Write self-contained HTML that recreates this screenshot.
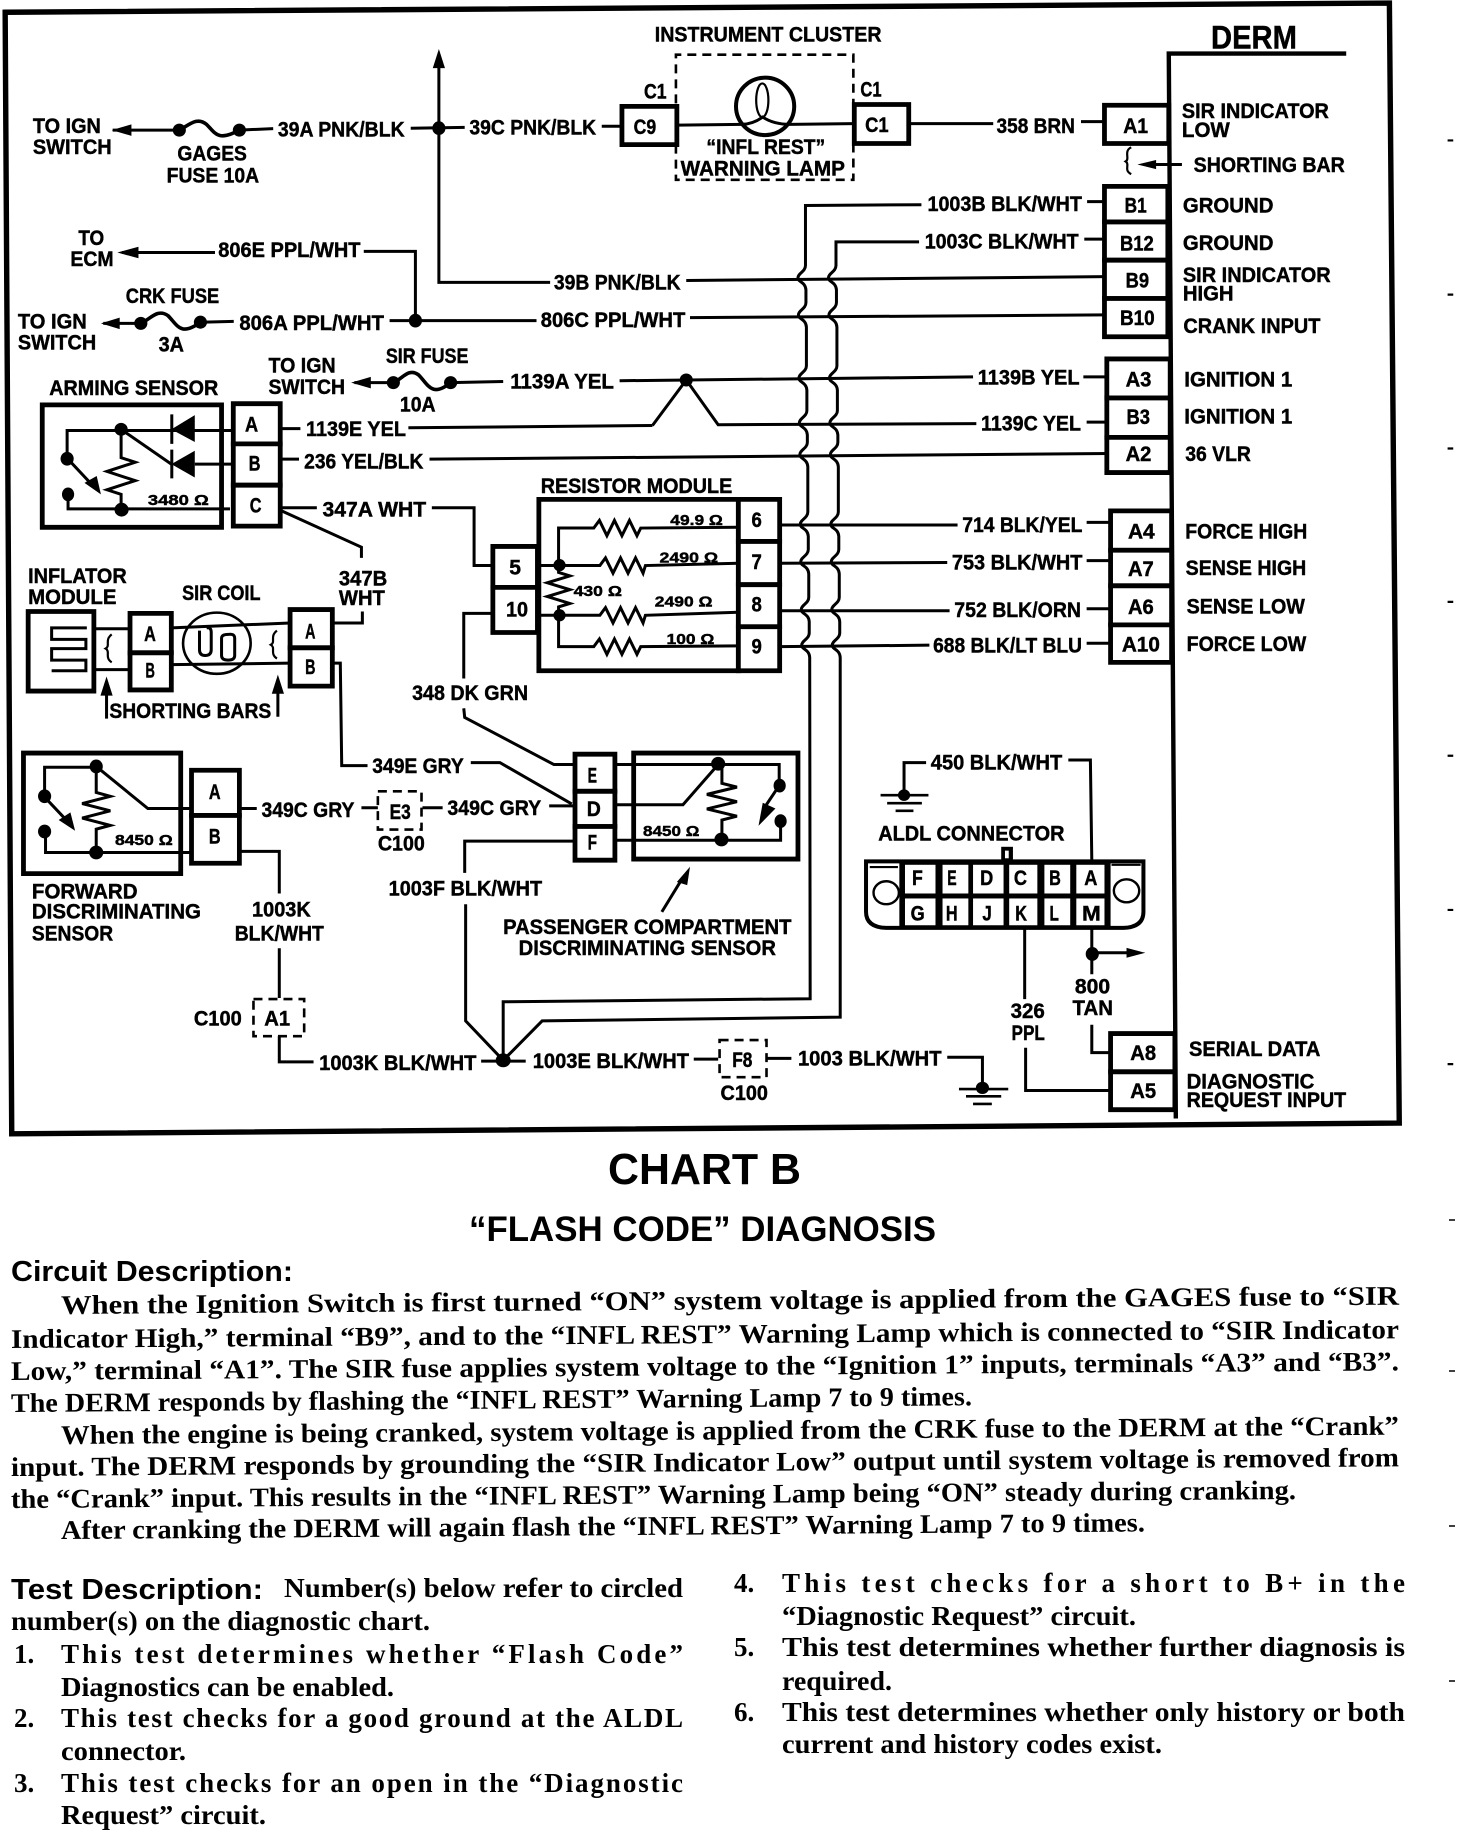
<!DOCTYPE html>
<html><head><meta charset="utf-8"><title>Chart B</title>
<style>
html,body{margin:0;padding:0;background:#fff}
svg{display:block}
path,line,rect,ellipse,polygon{vector-effect:non-scaling-stroke}
.w{fill:none;stroke:#000;stroke-width:3}
.u{fill:none;stroke:#000;stroke-width:3.6}
.n{fill:none;stroke:#000;stroke-width:2.2}
.b{fill:#fff;stroke:#000;stroke-width:4.8}
.d{fill:none;stroke:#000;stroke-width:2.6;stroke-dasharray:9 6}
.f{fill:#000;stroke:none}
.z text{font-family:"Liberation Sans",sans-serif;font-weight:bold;font-size:55px;fill:#000;stroke:#000;stroke-width:0.5px;vector-effect:non-scaling-stroke}
.z text.s{font-size:38px}
.z text.l{font-size:84px}
.z text.o{font-family:"Liberation Sans","DejaVu Sans",sans-serif;font-size:38px}
.p text{font-family:"Liberation Serif",serif;font-weight:bold;font-size:27px;fill:#000}
.p text.h{font-family:"Liberation Sans",sans-serif;font-weight:bold}
</style></head><body>
<svg xmlns="http://www.w3.org/2000/svg" width="1472" height="1836" viewBox="0 0 1472 1836">
<rect x="0" y="0" width="1472" height="1836" fill="#fff"/>
<g class="z" transform="scale(0.46939,0.38265)">
<!-- ROOT: cross-quadrant -->
<path d="M11 32 L2960 8 L2981 2935 L25 2963 Z" fill="none" stroke="#000" stroke-width="5.4"/>
<path class="d" d="M1440 270 V143 H1818 V270 M1818 375 V470 H1440 V380"/>
<path class="w" d="M1445 327 L1580 325 M1683 325 L1818 323"/>
<path class="w" d="M1462 733 L2353 723"/>
<path class="w" d="M1470 830 L2353 823"/>
<path class="w" d="M1320 995 L2073 985"/>
<path class="w" d="M1390 1112 L1462 993 L1530 1110 L2080 1107"/>
<path class="w" d="M870 1118 L1390 1112"/>
<path class="w" d="M915 1200 L2363 1185"/>
<ellipse class="f" cx="1462" cy="993" rx="14" ry="17"/>
<!-- jogged verticals -->
<path class="w" d="M1963 535 L1716 537 V694 c0 16-16 20-16 32c0 12 16 10 17 32 V791 c0 16-16 20-16 32c0 12 16 10 17 32 V956 c0 16-16 20-16 32c0 12 16 10 17 32 V1073 c0 16-16 20-16 32c0 12 16 10 17 32 V1156 c0 16-16 20-16 32c0 12 16 10 17 32 V1338 c0 16-16 20-16 32c0 12 16 10 17 32 V1436 c0 16-16 20-16 32c0 12 16 10 17 32 V1561 c0 16-16 20-16 32c0 12 16 10 17 32 V1654 c0 16-16 20-16 32c0 12 16 10 17 32 L1726 2610 L1072 2618 V2771"/>
<path class="w" d="M1958 632 H1781 V694 c0 16-16 20-16 32c0 12 16 10 17 32 V791 c0 16-16 20-16 32c0 12 16 10 17 32 V956 c0 16-16 20-16 32c0 12 16 10 17 32 V1073 c0 16-16 20-16 32c0 12 16 10 17 32 V1156 c0 16-16 20-16 32c0 12 16 10 17 32 V1338 c0 16-16 20-16 32c0 12 16 10 17 32 V1436 c0 16-16 20-16 32c0 12 16 10 17 32 V1561 c0 16-16 20-16 32c0 12 16 10 17 32 V1654 c0 16-16 20-16 32c0 12 16 10 17 32 L1790 2658 L1155 2668 L1072 2771"/>
<!-- DERM line -->
<path d="M2868 140 H2490 L2505 2923" fill="none" stroke="#000" stroke-width="4.4"/>
<!-- resistor module -->
<rect class="b" x="1148" y="1305" width="425" height="448"/>
<rect class="b" x="1573" y="1305" width="88" height="110"/>
<rect class="b" x="1573" y="1415" width="88" height="113"/>
<rect class="b" x="1573" y="1528" width="88" height="110"/>
<rect class="b" x="1573" y="1638" width="88" height="115"/>
<rect class="b" x="1050" y="1428" width="95" height="107"/>
<rect class="b" x="1050" y="1535" width="95" height="118"/>
<path class="w" d="M1145 1478 H1190 M1190 1475 V1380 H1265 l12 -20 l16 40 l16 -40 l16 40 l16 -40 l16 40 l8 -20 L1573 1378"/>
<path class="w" d="M1190 1478 H1278 l12 -20 l16 40 l16 -40 l16 40 l16 -40 l16 40 l5 -20 L1573 1472"/>
<path class="w" d="M1145 1608 H1278 l12 -20 l16 40 l16 -40 l16 40 l16 -40 l16 40 l5 -20 L1573 1600"/>
<path class="w" d="M1190 1608 V1690 H1265 l12 -20 l16 40 l16 -40 l16 40 l16 -40 l16 40 l8 -20 L1573 1688"/>
<path class="w" d="M1190 1478 V1496 l24 9 l-48 18 l48 18 l-48 18 l48 18 l-24 9 V1608"/>
<ellipse class="f" cx="1192" cy="1477" rx="13" ry="16"/><ellipse class="f" cx="1192" cy="1608" rx="13" ry="16"/>
<text x="1152" y="1288" textLength="408" lengthAdjust="spacingAndGlyphs">RESISTOR MODULE</text>
<text class="o" x="1428" y="1372" textLength="112" lengthAdjust="spacingAndGlyphs">49.9 Ω</text>
<text class="o" x="1405" y="1470" textLength="125" lengthAdjust="spacingAndGlyphs">2490 Ω</text>
<text class="o" x="1222" y="1558" textLength="103" lengthAdjust="spacingAndGlyphs">430 Ω</text>
<text class="o" x="1395" y="1585" textLength="123" lengthAdjust="spacingAndGlyphs">2490 Ω</text>
<text class="o" x="1420" y="1683" textLength="102" lengthAdjust="spacingAndGlyphs">100 Ω</text>
<text x="1085" y="1502" textLength="25" lengthAdjust="spacingAndGlyphs">5</text>
<text x="1078" y="1611" textLength="47" lengthAdjust="spacingAndGlyphs">10</text>
<text x="1601" y="1377" textLength="22" lengthAdjust="spacingAndGlyphs">6</text>
<text x="1601" y="1487" textLength="22" lengthAdjust="spacingAndGlyphs">7</text>
<text x="1601" y="1598" textLength="22" lengthAdjust="spacingAndGlyphs">8</text>
<text x="1601" y="1708" textLength="22" lengthAdjust="spacingAndGlyphs">9</text>
<text x="1395" y="108" textLength="483" lengthAdjust="spacingAndGlyphs">INSTRUMENT CLUSTER</text>
<text x="1505" y="403" textLength="253" lengthAdjust="spacingAndGlyphs">“INFL REST”</text>
<text x="1450" y="458" textLength="350" lengthAdjust="spacingAndGlyphs">WARNING LAMP</text>
<text x="1072" y="2441" textLength="614" lengthAdjust="spacingAndGlyphs">PASSENGER COMPARTMENT</text>
<text x="1105" y="2496" textLength="548" lengthAdjust="spacingAndGlyphs">DISCRIMINATING SENSOR</text>

<!-- Q1 -->
<path class="w" d="M240 340 H380"/><polygon class="f" points="238,340 280,325 280,355"/>
<path class="u" d="M382 340 C405 325 420 305 440 325 C460 350 465 370 510 340"/>
<ellipse class="f" cx="382" cy="340" rx="14" ry="17"/><ellipse class="f" cx="510" cy="340" rx="14" ry="17"/>
<path class="w" d="M510 340 L582 336"/>
<text x="70" y="347" textLength="145" lengthAdjust="spacingAndGlyphs">TO IGN</text>
<text x="70" y="402" textLength="168" lengthAdjust="spacingAndGlyphs">SWITCH</text>
<text x="378" y="420" textLength="148" lengthAdjust="spacingAndGlyphs">GAGES</text>
<text x="355" y="477" textLength="197" lengthAdjust="spacingAndGlyphs">FUSE 10A</text>
<text x="592" y="357" textLength="270" lengthAdjust="spacingAndGlyphs">39A PNK/BLK</text>
<path class="w" d="M875 335 L990 333 M935 170 V738 H1172"/>
<polygon class="f" points="935,128 922,178 948,178"/>
<ellipse class="f" cx="935" cy="335" rx="14" ry="18"/>
<text x="1000" y="352" textLength="270" lengthAdjust="spacingAndGlyphs">39C PNK/BLK</text>
<path class="w" d="M1282 330 H1325"/>
<rect class="b" x="1325" y="278" width="117" height="100"/>
<text x="1350" y="350" textLength="48" lengthAdjust="spacingAndGlyphs">C9</text>
<text x="1372" y="258" textLength="48" lengthAdjust="spacingAndGlyphs">C1</text>
<text x="1180" y="757" textLength="270" lengthAdjust="spacingAndGlyphs">39B PNK/BLK</text>
<polygon class="f" points="250,660 295,645 295,675"/>
<path class="w" d="M260 660 H458 M775 657 H885 V838"/>
<text x="465" y="672" textLength="303" lengthAdjust="spacingAndGlyphs">806E PPL/WHT</text>
<text x="167" y="640" textLength="55" lengthAdjust="spacingAndGlyphs">TO</text>
<text x="150" y="695" textLength="92" lengthAdjust="spacingAndGlyphs">ECM</text>
<text x="38" y="858" textLength="147" lengthAdjust="spacingAndGlyphs">TO IGN</text>
<text x="38" y="914" textLength="167" lengthAdjust="spacingAndGlyphs">SWITCH</text>
<text x="268" y="792" textLength="199" lengthAdjust="spacingAndGlyphs">CRK FUSE</text>
<text x="338" y="918" textLength="54" lengthAdjust="spacingAndGlyphs">3A</text>
<polygon class="f" points="215,845 255,830 255,860"/>
<path class="w" d="M220 845 H300 M427 842 L498 840"/>
<path class="u" d="M300 845 C320 835 335 805 358 825 C378 850 385 880 427 842"/>
<ellipse class="f" cx="300" cy="845" rx="14" ry="17"/><ellipse class="f" cx="427" cy="842" rx="14" ry="17"/>
<text x="510" y="862" textLength="308" lengthAdjust="spacingAndGlyphs">806A PPL/WHT</text>
<path class="w" d="M830 838 H1143"/><ellipse class="f" cx="885" cy="838" rx="14" ry="18"/>
<text x="1152" y="855" textLength="308" lengthAdjust="spacingAndGlyphs">806C PPL/WHT</text>
<text x="572" y="973" textLength="143" lengthAdjust="spacingAndGlyphs">TO IGN</text>
<text x="572" y="1030" textLength="163" lengthAdjust="spacingAndGlyphs">SWITCH</text>
<text x="822" y="948" textLength="176" lengthAdjust="spacingAndGlyphs">SIR FUSE</text>
<text x="852" y="1075" textLength="76" lengthAdjust="spacingAndGlyphs">10A</text>
<polygon class="f" points="748,1000 790,985 790,1015"/>
<path class="w" d="M755 1000 H838 M960 1000 L1072 997"/>
<path class="u" d="M838 1000 C858 990 870 960 892 980 C912 1005 920 1040 960 1000"/>
<ellipse class="f" cx="838" cy="1000" rx="14" ry="17"/><ellipse class="f" cx="960" cy="1000" rx="14" ry="17"/>
<text x="1087" y="1015" textLength="221" lengthAdjust="spacingAndGlyphs">1139A YEL</text>
<text x="652" y="1140" textLength="213" lengthAdjust="spacingAndGlyphs">1139E YEL</text>
<path class="w" d="M600 1120 H640 M600 1200 H637 M600 1327 H675 M920 1327 H1010 V1478 H1048 M600 1335 L770 1430 V1458"/>
<text x="648" y="1225" textLength="254" lengthAdjust="spacingAndGlyphs">236 YEL/BLK</text>
<text x="687" y="1350" textLength="221" lengthAdjust="spacingAndGlyphs">347A WHT</text>
<text x="105" y="1032" textLength="360" lengthAdjust="spacingAndGlyphs">ARMING SENSOR</text>
<rect class="b" x="90" y="1058" width="382" height="320"/>
<rect class="b" x="497" y="1055" width="100" height="105"/>
<rect class="b" x="497" y="1160" width="100" height="108"/>
<rect class="b" x="497" y="1268" width="100" height="107"/>
<text x="522" y="1128" textLength="28" lengthAdjust="spacingAndGlyphs">A</text>
<text x="530" y="1230" textLength="25" lengthAdjust="spacingAndGlyphs">B</text>
<text x="532" y="1340" textLength="25" lengthAdjust="spacingAndGlyphs">C</text>
<path class="w" d="M143 1200 V1125 H495 M415 1213 H495 M258 1122 L365 1213 M145 1292 V1330 H490 M258 1125 V1196 l30 12 l-60 24 l60 24 l-60 24 l30 12 V1332"/>
<polygon class="f" points="365,1122 415,1085 415,1155"/><polygon class="f" points="365,1213 415,1178 415,1248"/>
<path class="w" d="M366 1083 V1160 M366 1175 V1250 M145 1200 L200 1272"/>
<polygon class="f" points="215,1292 180,1262 206,1244"/>
<ellipse class="f" cx="258" cy="1122" rx="14" ry="17"/><ellipse class="f" cx="259" cy="1332" rx="15" ry="18"/><ellipse class="f" cx="143" cy="1199" rx="14" ry="18"/><ellipse class="f" cx="145" cy="1292" rx="13" ry="18"/>
<text class="o" x="315" y="1320" textLength="130" lengthAdjust="spacingAndGlyphs">3480 Ω</text>
<text x="722" y="1530" textLength="103" lengthAdjust="spacingAndGlyphs">347B</text>

<!-- Q2 -->
<g transform="translate(1568,0)">
<ellipse fill="none" stroke="#000" stroke-width="4" cx="62" cy="278" rx="62" ry="75"/>
<ellipse class="n" cx="56" cy="262" rx="13" ry="44"/>
<path class="w" d="M12 325 Q35 325 57 306 Q80 325 115 325"/>
<text x="265" y="252" textLength="45" lengthAdjust="spacingAndGlyphs">C1</text>
<rect class="b" x="252" y="273" width="116" height="102"/>
<text x="275" y="345" textLength="50" lengthAdjust="spacingAndGlyphs">C1</text>
<path class="w" d="M368 323 H548 M735 318 H785"/>
<text x="555" y="348" textLength="167" lengthAdjust="spacingAndGlyphs">358 BRN</text>
<rect class="b" x="785" y="275" width="137" height="100"/>
<text x="825" y="347" textLength="53" lengthAdjust="spacingAndGlyphs">A1</text>
<text class="l" x="1012" y="127" textLength="183" lengthAdjust="spacingAndGlyphs">DERM</text>
<text x="950" y="308" textLength="313" lengthAdjust="spacingAndGlyphs">SIR INDICATOR</text>
<text x="950" y="358" textLength="102" lengthAdjust="spacingAndGlyphs">LOW</text>
<path class="n" d="M842 385 C825 395 840 415 830 422 C840 430 825 445 842 455"/>
<path class="w" d="M870 430 H950"/><polygon class="f" points="855,430 895,418 895,442"/>
<text x="975" y="450" textLength="322" lengthAdjust="spacingAndGlyphs">SHORTING BAR</text>
<rect class="b" x="785" y="487" width="135" height="93"/>
<rect class="b" x="785" y="580" width="135" height="100"/>
<rect class="b" x="785" y="680" width="135" height="100"/>
<rect class="b" x="785" y="780" width="135" height="100"/>
<text x="828" y="556" textLength="47" lengthAdjust="spacingAndGlyphs">B1</text>
<text x="818" y="655" textLength="72" lengthAdjust="spacingAndGlyphs">B12</text>
<text x="830" y="752" textLength="50" lengthAdjust="spacingAndGlyphs">B9</text>
<text x="818" y="850" textLength="74" lengthAdjust="spacingAndGlyphs">B10</text>
<text x="952" y="556" textLength="193" lengthAdjust="spacingAndGlyphs">GROUND</text>
<text x="952" y="654" textLength="193" lengthAdjust="spacingAndGlyphs">GROUND</text>
<text x="952" y="737" textLength="315" lengthAdjust="spacingAndGlyphs">SIR INDICATOR</text>
<text x="952" y="785" textLength="108" lengthAdjust="spacingAndGlyphs">HIGH</text>
<text x="953" y="870" textLength="292" lengthAdjust="spacingAndGlyphs">CRANK INPUT</text>
<text x="408" y="552" textLength="329" lengthAdjust="spacingAndGlyphs">1003B BLK/WHT</text>
<text x="402" y="650" textLength="328" lengthAdjust="spacingAndGlyphs">1003C BLK/WHT</text>
<path class="w" d="M748 527 H785 M742 625 H785 M740 985 H790 M747 1103 H790"/>
<text x="515" y="1005" textLength="217" lengthAdjust="spacingAndGlyphs">1139B YEL</text>
<text x="522" y="1125" textLength="213" lengthAdjust="spacingAndGlyphs">1139C YEL</text>
<rect class="b" x="790" y="938" width="135" height="102"/>
<rect class="b" x="790" y="1040" width="135" height="103"/>
<rect class="b" x="790" y="1143" width="135" height="92"/>
<text x="830" y="1010" textLength="55" lengthAdjust="spacingAndGlyphs">A3</text>
<text x="832" y="1108" textLength="50" lengthAdjust="spacingAndGlyphs">B3</text>
<text x="830" y="1205" textLength="55" lengthAdjust="spacingAndGlyphs">A2</text>
<text x="955" y="1010" textLength="230" lengthAdjust="spacingAndGlyphs">IGNITION 1</text>
<text x="955" y="1107" textLength="230" lengthAdjust="spacingAndGlyphs">IGNITION 1</text>
<text x="957" y="1205" textLength="140" lengthAdjust="spacingAndGlyphs">36 VLR</text>
<path class="w" d="M93 1372 H472 M93 1472 L450 1470 M747 1365 H797 M747 1465 H797"/>
<text x="482" y="1390" textLength="256" lengthAdjust="spacingAndGlyphs">714 BLK/YEL</text>
<text x="460" y="1488" textLength="278" lengthAdjust="spacingAndGlyphs">753 BLK/WHT</text>
<rect class="b" x="798" y="1335" width="130" height="103"/>
<rect class="b" x="798" y="1438" width="130" height="93"/>
<text x="835" y="1407" textLength="57" lengthAdjust="spacingAndGlyphs">A4</text>
<text x="835" y="1505" textLength="55" lengthAdjust="spacingAndGlyphs">A7</text>
<text x="957" y="1407" textLength="260" lengthAdjust="spacingAndGlyphs">FORCE HIGH</text>
<text x="958" y="1503" textLength="257" lengthAdjust="spacingAndGlyphs">SENSE HIGH</text>
<path class="n" d="M1516 367 H1528 M1516 770 H1528 M1516 1172 H1528"/>
</g>

<!-- Q3 -->
<g transform="translate(0,1463)">
<text x="60" y="60" textLength="210" lengthAdjust="spacingAndGlyphs">INFLATOR</text>
<text x="60" y="115" textLength="188" lengthAdjust="spacingAndGlyphs">MODULE</text>
<text x="388" y="105" textLength="167" lengthAdjust="spacingAndGlyphs">SIR COIL</text>
<rect class="b" x="60" y="135" width="140" height="208"/>
<path class="w" d="M185 178 H110 V208 H183 V232 H110 V262 H183 V290 H110"/>
<path class="w" d="M200 180 H275 M200 287 H275 M365 178 L618 165 M365 274 L618 270"/>
<path class="n" d="M238 195 C222 210 236 225 225 232 C236 240 222 255 238 268 M590 185 C574 200 588 215 577 222 C588 230 574 245 590 258"/>
<rect class="b" x="277" y="140" width="88" height="103"/>
<rect class="b" x="277" y="243" width="88" height="97"/>
<text x="307" y="212" textLength="25" lengthAdjust="spacingAndGlyphs">A</text>
<text x="310" y="308" textLength="20" lengthAdjust="spacingAndGlyphs">B</text>
<ellipse fill="none" stroke="#000" stroke-width="2.6" cx="462" cy="218" rx="72" ry="80"/>
<path class="w" d="M425 185 V235 Q425 250 437 250 Q450 250 450 235 V190 Q450 175 440 178 M472 205 V250 Q472 262 486 262 Q500 262 500 250 V205 Q500 192 486 195 Q472 195 472 205"/>
<path class="w" d="M227 330 V415 M592 330 V410"/>
<polygon class="f" points="227,305 214,355 240,355"/><polygon class="f" points="592,300 579,350 605,350"/>
<text x="233" y="413" textLength="345" lengthAdjust="spacingAndGlyphs">SHORTING BARS</text>
<rect class="b" x="618" y="130" width="90" height="100"/>
<rect class="b" x="618" y="230" width="90" height="100"/>
<text x="650" y="205" textLength="22" lengthAdjust="spacingAndGlyphs">A</text>
<text x="650" y="298" textLength="22" lengthAdjust="spacingAndGlyphs">B</text>
<text x="722" y="118" textLength="98" lengthAdjust="spacingAndGlyphs">WHT</text>
<path class="w" d="M708 165 H772 V135 M712 270 H725 L728 538 H783 M1003 530 H1065 L1218 638"/>
<text x="793" y="557" textLength="195" lengthAdjust="spacingAndGlyphs">349E GRY</text>
<path class="w" d="M1050 140 H988 V310 M988 388 L990 412 L1180 535 H1225"/>
<text x="878" y="367" textLength="247" lengthAdjust="spacingAndGlyphs">348 DK GRN</text>
<rect class="b" x="1225" y="508" width="85" height="97"/>
<rect class="b" x="1225" y="605" width="85" height="92"/>
<rect class="b" x="1225" y="697" width="85" height="88"/>
<text x="1252" y="582" textLength="20" lengthAdjust="spacingAndGlyphs">E</text>
<text x="1250" y="670" textLength="30" lengthAdjust="spacingAndGlyphs">D</text>
<text x="1252" y="757" textLength="20" lengthAdjust="spacingAndGlyphs">F</text>
<rect fill="none" stroke="#000" stroke-width="4.8" x="1350" y="505" width="350" height="277"/>
<path class="w" d="M1310 535 H1660 V590 M1310 640 H1455 L1530 535 M1310 733 H1663 V683 M1660 590 L1630 645"/>
<path class="w" d="M1538 535 V584 l32 10 l-64 19 l64 19 l-64 19 l64 19 l-32 10 V729"/>
<polygon class="f" points="1616,695 1625,635 1652,650"/>
<ellipse class="f" cx="1530" cy="533" rx="15" ry="18"/><ellipse class="f" cx="1537" cy="731" rx="15" ry="18"/><ellipse class="f" cx="1661" cy="590" rx="13" ry="18"/><ellipse class="f" cx="1663" cy="683" rx="13" ry="18"/>
<text class="o" x="1370" y="722" textLength="120" lengthAdjust="spacingAndGlyphs">8450 Ω</text>
<path class="w" d="M1225 735 H990 V818 M992 900 V1205 L1072 1308"/>
<text x="828" y="877" textLength="327" lengthAdjust="spacingAndGlyphs">1003F BLK/WHT</text>
<ellipse class="f" cx="1072" cy="1308" rx="16" ry="18"/>
<path class="w" d="M1410 920 L1455 830"/><polygon class="f" points="1470,802 1442,842 1464,850"/>
<rect class="b" x="50" y="505" width="335" height="315"/>
<path class="w" d="M95 620 V542 H205 M97 710 V765 H410 M205 540 L315 650 H410 M95 620 L145 685 M205 540 V608 l30 10 l-60 19 l60 19 l-60 19 l60 19 l-30 10 V765"/>
<polygon class="f" points="160,708 125,680 150,660"/>
<ellipse class="f" cx="205" cy="540" rx="14" ry="18"/><ellipse class="f" cx="205" cy="765" rx="15" ry="18"/><ellipse class="f" cx="95" cy="618" rx="14" ry="18"/><ellipse class="f" cx="95" cy="710" rx="14" ry="18"/>
<text class="o" x="245" y="745" textLength="123" lengthAdjust="spacingAndGlyphs">8450 Ω</text>
<rect class="b" x="408" y="550" width="102" height="118"/>
<rect class="b" x="408" y="668" width="102" height="125"/>
<text x="445" y="625" textLength="25" lengthAdjust="spacingAndGlyphs">A</text>
<text x="445" y="742" textLength="25" lengthAdjust="spacingAndGlyphs">B</text>
<text x="68" y="885" textLength="225" lengthAdjust="spacingAndGlyphs">FORWARD</text>
<text x="68" y="938" textLength="360" lengthAdjust="spacingAndGlyphs">DISCRIMINATING</text>
<text x="68" y="995" textLength="173" lengthAdjust="spacingAndGlyphs">SENSOR</text>
<path class="w" d="M510 650 H547 M770 648 H805 M900 648 H943 M1170 643 H1225"/>
<text x="557" y="672" textLength="198" lengthAdjust="spacingAndGlyphs">349C GRY</text>
<text x="953" y="667" textLength="200" lengthAdjust="spacingAndGlyphs">349C GRY</text>
<rect class="d" x="805" y="605" width="93" height="100"/>
<text x="830" y="677" textLength="45" lengthAdjust="spacingAndGlyphs">E3</text>
<text x="805" y="760" textLength="100" lengthAdjust="spacingAndGlyphs">C100</text>
<path class="w" d="M510 762 H595 V872 M595 1015 V1145 M595 1245 V1312 H668 M1025 1310 H1120 M1478 1305 H1530"/>
<text x="537" y="932" textLength="125" lengthAdjust="spacingAndGlyphs">1003K</text>
<text x="500" y="995" textLength="190" lengthAdjust="spacingAndGlyphs">BLK/WHT</text>
<rect class="d" x="540" y="1148" width="108" height="97"/>
<text x="563" y="1217" textLength="55" lengthAdjust="spacingAndGlyphs">A1</text>
<text x="413" y="1217" textLength="102" lengthAdjust="spacingAndGlyphs">C100</text>
<text x="680" y="1333" textLength="335" lengthAdjust="spacingAndGlyphs">1003K BLK/WHT</text>
<text x="1135" y="1328" textLength="333" lengthAdjust="spacingAndGlyphs">1003E BLK/WHT</text>
<rect class="d" x="1533" y="1255" width="100" height="97"/>
<text x="1560" y="1325" textLength="43" lengthAdjust="spacingAndGlyphs">F8</text>
<text x="1535" y="1412" textLength="101" lengthAdjust="spacingAndGlyphs">C100</text>
</g>

<!-- Q4 -->
<g transform="translate(1568,1463)">
<path class="w" d="M95 133 H455 M95 227 L412 223 M747 128 H797 M747 218 H797"/>
<text x="465" y="150" textLength="270" lengthAdjust="spacingAndGlyphs">752 BLK/ORN</text>
<text x="420" y="242" textLength="317" lengthAdjust="spacingAndGlyphs">688 BLK/LT BLU</text>
<rect class="b" x="798" y="68" width="130" height="102"/>
<rect class="b" x="798" y="170" width="130" height="98"/>
<text x="835" y="142" textLength="55" lengthAdjust="spacingAndGlyphs">A6</text>
<text x="822" y="240" textLength="81" lengthAdjust="spacingAndGlyphs">A10</text>
<text x="960" y="140" textLength="252" lengthAdjust="spacingAndGlyphs">SENSE LOW</text>
<text x="960" y="238" textLength="255" lengthAdjust="spacingAndGlyphs">FORCE LOW</text>
<text x="415" y="548" textLength="280" lengthAdjust="spacingAndGlyphs">450 BLK/WHT</text>
<path class="w" d="M405 530 H358 V615 M708 523 H755 L758 785"/>
<path d="M308 615 H410 M322 636 H396 M340 656 H378" fill="none" stroke="#000" stroke-width="2.6"/>
<ellipse class="f" cx="358" cy="615" rx="13" ry="15"/>
<text x="303" y="733" textLength="397" lengthAdjust="spacingAndGlyphs">ALDL  CONNECTOR</text>
<rect class="f" x="565" y="750" width="25" height="38"/><rect fill="#fff" x="573" y="760" width="8" height="20"/>
<path d="M277 788 H868 V920 Q868 960 825 962 H320 Q277 960 277 920 Z" fill="#fff" stroke="#000" stroke-width="4"/>
<rect class="f" x="348" y="787" width="450" height="178"/>
<rect fill="#fff" x="360" y="797" width="65" height="75"/><rect fill="#fff" x="440" y="797" width="55" height="75"/><rect fill="#fff" x="505" y="797" width="65" height="75"/><rect fill="#fff" x="582" y="797" width="60" height="75"/><rect fill="#fff" x="657" y="797" width="55" height="75"/><rect fill="#fff" x="725" y="797" width="60" height="75"/>
<rect fill="#fff" x="360" y="885" width="65" height="70"/><rect fill="#fff" x="440" y="885" width="55" height="70"/><rect fill="#fff" x="505" y="885" width="65" height="70"/><rect fill="#fff" x="582" y="885" width="60" height="70"/><rect fill="#fff" x="657" y="885" width="55" height="70"/><rect fill="#fff" x="725" y="885" width="60" height="70"/>
<ellipse fill="#fff" stroke="#000" stroke-width="2.4" cx="320" cy="870" rx="27" ry="30"/><ellipse fill="#fff" stroke="#000" stroke-width="2.4" cx="832" cy="865" rx="27" ry="30"/>
<path class="n" d="M285 803 H345 M800 797 H862"/>
<text x="375" y="850" textLength="23" lengthAdjust="spacingAndGlyphs">F</text><text x="450" y="850" textLength="20" lengthAdjust="spacingAndGlyphs">E</text><text x="520" y="850" textLength="28" lengthAdjust="spacingAndGlyphs">D</text><text x="592" y="850" textLength="28" lengthAdjust="spacingAndGlyphs">C</text><text x="667" y="850" textLength="25" lengthAdjust="spacingAndGlyphs">B</text><text x="742" y="850" textLength="28" lengthAdjust="spacingAndGlyphs">A</text>
<text x="372" y="943" textLength="30" lengthAdjust="spacingAndGlyphs">G</text><text x="447" y="943" textLength="25" lengthAdjust="spacingAndGlyphs">H</text><text x="525" y="943" textLength="20" lengthAdjust="spacingAndGlyphs">J</text><text x="595" y="943" textLength="25" lengthAdjust="spacingAndGlyphs">K</text><text x="668" y="943" textLength="20" lengthAdjust="spacingAndGlyphs">L</text><text x="737" y="943" textLength="40" lengthAdjust="spacingAndGlyphs">M</text>
<path class="w" d="M615 965 V1148 M617 1275 V1387 H797 M758 965 V1083 M758 1027 H840 M758 1215 V1288 H797"/>
<polygon class="f" points="872,1027 832,1014 832,1040"/>
<ellipse class="f" cx="759" cy="1030" rx="14" ry="18"/>
<text x="585" y="1198" textLength="73" lengthAdjust="spacingAndGlyphs">326</text>
<text x="587" y="1255" textLength="71" lengthAdjust="spacingAndGlyphs">PPL</text>
<text x="722" y="1133" textLength="75" lengthAdjust="spacingAndGlyphs">800</text>
<text x="717" y="1190" textLength="86" lengthAdjust="spacingAndGlyphs">TAN</text>
<rect class="b" x="798" y="1238" width="137" height="100"/>
<rect class="b" x="798" y="1338" width="137" height="99"/>
<text x="840" y="1307" textLength="55" lengthAdjust="spacingAndGlyphs">A8</text>
<text x="840" y="1407" textLength="55" lengthAdjust="spacingAndGlyphs">A5</text>
<text x="965" y="1297" textLength="280" lengthAdjust="spacingAndGlyphs">SERIAL DATA</text>
<text x="960" y="1382" textLength="272" lengthAdjust="spacingAndGlyphs">DIAGNOSTIC</text>
<text x="960" y="1430" textLength="340" lengthAdjust="spacingAndGlyphs">REQUEST INPUT</text>
<path class="w" d="M63 1303 H118 M450 1300 H525 V1378"/>
<text x="132" y="1322" textLength="306" lengthAdjust="spacingAndGlyphs">1003 BLK/WHT</text>
<path d="M475 1383 H580 M490 1402 H565 M505 1422 H545" fill="none" stroke="#000" stroke-width="2.6"/>
<ellipse class="f" cx="525" cy="1380" rx="14" ry="16"/>
<path class="n" d="M1516 110 H1528 M1516 512 H1528 M1516 915 H1528 M1516 1318 H1528"/>
</g>
</g>

<!-- lower text -->
<g class="p">
<text class="h" x="608" y="1184" style="font-size:44px" textLength="193" lengthAdjust="spacingAndGlyphs">CHART B</text>
<text class="h" x="469" y="1241" style="font-size:35px" textLength="467" lengthAdjust="spacingAndGlyphs">“FLASH CODE” DIAGNOSIS</text>
<text class="h" x="11" y="1281" style="font-size:29px" textLength="282" lengthAdjust="spacingAndGlyphs">Circuit Description:</text>
<text x="61" y="1314" transform="rotate(-0.4 61 1314)" textLength="1338" lengthAdjust="spacingAndGlyphs">When the Ignition Switch is first turned “ON” system voltage is applied from the GAGES fuse to “SIR</text>
<text x="11" y="1348" transform="rotate(-0.4 11 1348)" textLength="1388" lengthAdjust="spacingAndGlyphs">Indicator High,” terminal “B9”, and to the “INFL REST” Warning Lamp which is connected to “SIR Indicator</text>
<text x="11" y="1380" transform="rotate(-0.4 11 1380)" textLength="1388" lengthAdjust="spacingAndGlyphs">Low,” terminal “A1”.  The SIR fuse applies system voltage to the “Ignition 1” inputs, terminals “A3” and “B3”.</text>
<text x="11" y="1412" transform="rotate(-0.4 11 1412)" textLength="961" lengthAdjust="spacingAndGlyphs">The DERM responds by flashing the “INFL REST” Warning Lamp 7 to 9 times.</text>
<text x="61" y="1444" transform="rotate(-0.4 61 1444)" textLength="1338" lengthAdjust="spacingAndGlyphs">When the engine is being cranked, system voltage is applied from the CRK fuse to the DERM at the “Crank”</text>
<text x="11" y="1476" transform="rotate(-0.4 11 1476)" textLength="1388" lengthAdjust="spacingAndGlyphs">input.  The DERM responds by grounding the “SIR Indicator Low” output until system voltage is removed from</text>
<text x="11" y="1508" transform="rotate(-0.4 11 1508)" textLength="1285" lengthAdjust="spacingAndGlyphs">the “Crank” input.  This results in the “INFL REST” Warning Lamp being “ON” steady during cranking.</text>
<text x="61" y="1539" transform="rotate(-0.4 61 1539)" textLength="1084" lengthAdjust="spacingAndGlyphs">After cranking the DERM will again flash the “INFL REST” Warning Lamp 7 to 9 times.</text>
<text class="h" x="11" y="1599" style="font-size:29px" textLength="252" lengthAdjust="spacingAndGlyphs">Test Description:</text>
<text x="284" y="1597" textLength="399" lengthAdjust="spacingAndGlyphs">Number(s) below refer to circled</text>
<text x="11" y="1630" textLength="419" lengthAdjust="spacingAndGlyphs">number(s) on the diagnostic chart.</text>
<text x="14" y="1663">1.</text>
<text x="61" y="1663" textLength="622" lengthAdjust="spacing">This test determines whether “Flash Code”</text>
<text x="61" y="1696" textLength="333" lengthAdjust="spacingAndGlyphs">Diagnostics can be enabled.</text>
<text x="14" y="1727">2.</text>
<text x="61" y="1727" textLength="622" lengthAdjust="spacing">This test checks for a good ground at the ALDL</text>
<text x="61" y="1760" textLength="125" lengthAdjust="spacingAndGlyphs">connector.</text>
<text x="14" y="1792">3.</text>
<text x="61" y="1792" textLength="622" lengthAdjust="spacing">This test checks for an open in the “Diagnostic</text>
<text x="61" y="1824" textLength="205" lengthAdjust="spacingAndGlyphs">Request” circuit.</text>
<text x="734" y="1592">4.</text>
<text x="782" y="1592" textLength="623" lengthAdjust="spacing">This test checks for a short to B+ in the</text>
<text x="782" y="1625" textLength="354" lengthAdjust="spacingAndGlyphs">“Diagnostic Request” circuit.</text>
<text x="734" y="1656">5.</text>
<text x="782" y="1656" textLength="623" lengthAdjust="spacingAndGlyphs">This test determines whether further diagnosis is</text>
<text x="782" y="1690" textLength="110" lengthAdjust="spacingAndGlyphs">required.</text>
<text x="734" y="1721">6.</text>
<text x="782" y="1721" textLength="623" lengthAdjust="spacingAndGlyphs">This test determines whether only history or both</text>
<text x="782" y="1753" textLength="380" lengthAdjust="spacingAndGlyphs">current and history codes exist.</text>
<path d="M1449 1220 h6 M1449 1371 h6 M1449 1526 h6 M1449 1681 h6" stroke="#000" stroke-width="1.5" fill="none"/>
</g>
</svg>
</body></html>
